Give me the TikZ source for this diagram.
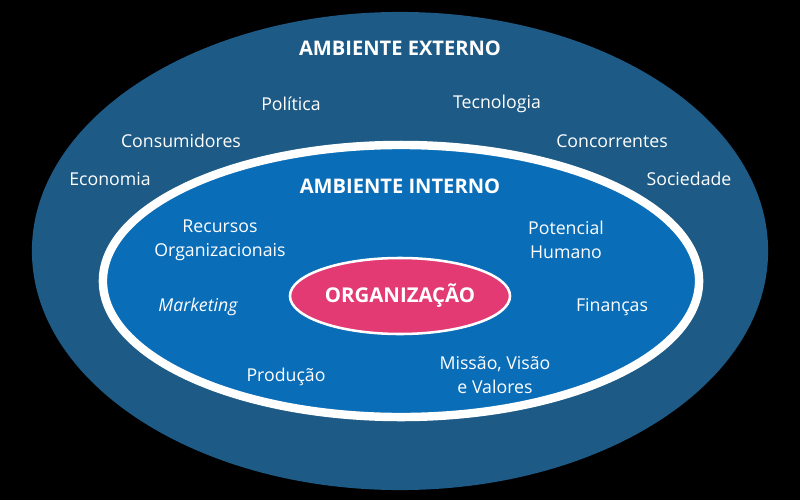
\documentclass[tikz,border=0pt]{standalone}
\usepackage{fontspec}
\setmainfont{Open Sans}
\usepackage{xcolor}
\usetikzlibrary{shapes.geometric, positioning}

\definecolor{extblue}{HTML}{1D5A85}
\definecolor{intblue}{HTML}{0A6DB8}
\definecolor{orgpink}{HTML}{E33A74}

\begin{document}
\begin{tikzpicture}[x=0.025cm, y=-0.025cm,
  envring/.style={ellipse, outer sep=0pt, inner sep=0pt},
  label/.style={text=white, align=center, font=\fontsize{12.6}{17}\selectfont},
  title/.style={text=white, align=center, font=\fontsize{14.3}{16}\selectfont\bfseries}]
  % background
  \fill[black] (0,0) rectangle (800,500);
  \useasboundingbox (0,0) rectangle (800,500);
  % Ellipses
  \node[envring, fill=extblue, minimum width=18.4cm, minimum height=11.95cm] (ext) at (400,251) {};
  \node[envring, fill=intblue, draw=white, line width=6pt, minimum width=14.9cm, minimum height=6.8cm] (int) at (401,281) {};
  \node[envring, fill=orgpink, draw=white, line width=1.8pt, minimum width=5.5cm, minimum height=1.9cm,
    text=white, font=\fontsize{14.5}{16}\selectfont\bfseries] (org) at (400,296) {ORGANIZAÇÃO};
  % External
  \node[title] (extTitle) at (400,48) {AMBIENTE EXTERNO};
  \node[label] (politica) at (291,104) {Política};
  \node[label] (tecnologia) at (497,104) {Tecnologia};
  \node[label] (consumidores) at (181,141) {Consumidores};
  \node[label] (concorrentes) at (612,141) {Concorrentes};
  \node[label] (economia) at (110,179) {Economia};
  \node[label] (sociedade) at (689,179) {Sociedade};
  % Internal
  \node[title] (intTitle) at (400,186) {AMBIENTE INTERNO};
  \node[label] (recursos) at (220,240) {Recursos\\Organizacionais};
  \node[label] (potencial) at (566,240) {Potencial\\Humano};
  \node[label, font=\fontsize{12.6}{17}\selectfont\itshape] (marketing) at (198,307) {Marketing};
  \node[label] (financas) at (612,307) {Finanças};
  \node[label] (producao) at (286,377) {Produção};
  \node[label] (missao) at (495,375) {Missão, Visão\\e Valores};
\end{tikzpicture}
\end{document}
